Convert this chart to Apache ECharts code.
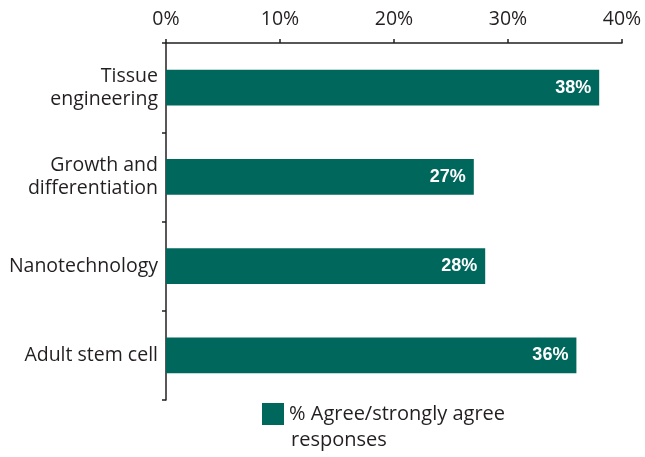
<!DOCTYPE html>
<html>
<head>
<meta charset="utf-8">
<script src="https://cdn.jsdelivr.net/npm/echarts@6/dist/echarts.min.js"></script>
<style>
  html, body { margin: 0; padding: 0; background: #fff; }
  #chart { width: 645px; height: 457px; }
</style>
</head>
<body>
<div id="chart"></div>
<script>
// Survey areas, top to bottom
const categories = ['Tissue\nengineering', 'Growth and\ndifferentiation', 'Nanotechnology', 'Adult stem cell'];
// Share of respondents who agree or strongly agree (%)
const agreeValues = [38, 27, 28, 36];
const seriesName = '% Agree/strongly agree';
const legendSecondLine = 'responses';
const tickLabels = ['0%', '10%', '20%', '30%', '40%'];

const FONT = '"Open Sans", "Liberation Sans", Arial, sans-serif';
const TEXT = '#231f20';
const BAR = '#00675c';

const chart = echarts.init(document.getElementById('chart'), null, { renderer: 'canvas' });

chart.setOption({
  animation: false,
  backgroundColor: '#ffffff',
  grid: { left: 166, right: 23, top: 43, bottom: 57, containLabel: false },
  xAxis: {
    type: 'value',
    position: 'top',
    min: 0,
    max: 40,
    interval: 10,
    splitLine: { show: false },
    axisLine: { show: true, lineStyle: { color: TEXT, width: 1.5 } },
    axisTick: { show: true, length: 4, lineStyle: { color: TEXT, width: 1.5 } },
    axisLabel: {
      margin: 14,
      color: TEXT,
      fontFamily: FONT,
      fontSize: 19.5,
      formatter: (v) => tickLabels[Math.round(v / 10)]
    }
  },
  yAxis: {
    type: 'category',
    data: categories,
    inverse: true,
    axisLine: { show: true, lineStyle: { color: TEXT, width: 1.5 } },
    axisTick: { show: true, length: 4, lineStyle: { color: TEXT, width: 1.5 } },
    axisLabel: {
      margin: 8,
      color: TEXT,
      fontFamily: FONT,
      fontSize: 19.5,
      lineHeight: 23,
      align: 'right'
    }
  },
  legend: {
    show: true,
    left: 262,
    top: 403,
    padding: 0,
    itemWidth: 22,
    itemHeight: 22,
    itemGap: 6,
    icon: 'rect',
    textStyle: {
      color: TEXT,
      fontFamily: FONT,
      fontSize: 20
    },
    data: [seriesName]
  },
  graphic: [{
    type: 'text',
    left: 291,
    top: 430,
    style: {
      text: legendSecondLine,
      fill: TEXT,
      font: '20px ' + FONT
    }
  }],
  series: [{
    name: seriesName,
    type: 'bar',
    data: agreeValues,
    barCategoryGap: '60%',
    itemStyle: { color: BAR },
    label: {
      show: true,
      position: 'insideRight',
      distance: 8,
      color: '#ffffff',
      fontFamily: '"Liberation Sans", Arial, sans-serif',
      fontWeight: 'bold',
      fontSize: 18,
      formatter: (p) => p.value + '%'
    }
  }]
});
</script>
</body>
</html>
